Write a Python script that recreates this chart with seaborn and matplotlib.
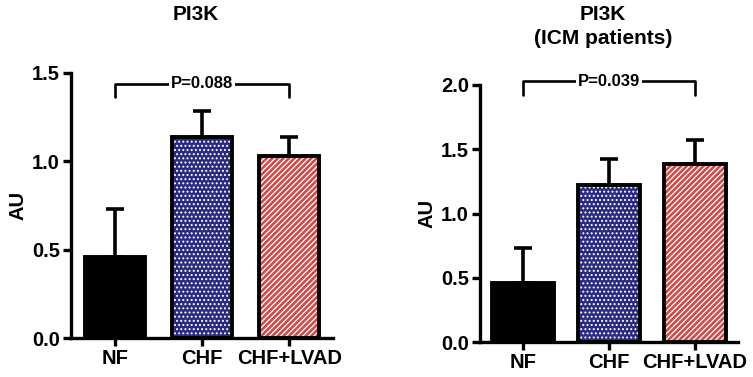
import matplotlib
matplotlib.use("Agg")
import matplotlib.pyplot as plt
import seaborn as sns
import pandas as pd

categories = ["NF", "CHF", "CHF+LVAD"]
left_means = [0.46, 1.135, 1.03]
left_err = [0.27, 0.15, 0.105]
right_means = [0.46, 1.22, 1.385]
right_err = [0.27, 0.205, 0.185]
left_p = "P=0.088"
right_p = "P=0.039"
left_yticks = [0.0, 0.5, 1.0, 1.5]
right_yticks = [0.0, 0.5, 1.0, 1.5, 2.0]

sns.set_style("ticks")
plt.rcParams["font.family"] = ["Liberation Sans", "DejaVu Sans"]
plt.rcParams["font.weight"] = "bold"
plt.rcParams["hatch.linewidth"] = 0.9
plt.rcParams["text.color"] = "black"
plt.rcParams["axes.edgecolor"] = "black"
plt.rcParams["axes.labelcolor"] = "black"
plt.rcParams["xtick.color"] = "black"
plt.rcParams["ytick.color"] = "black"

colors = ["#000000", "#1c1c8c", "#e03838"]
hatches = ["", "....", "//////"]

fig = plt.figure(figsize=(7.53, 3.77), dpi=100)
ax1 = fig.add_axes([71/753, 1-338/377, (333-71)/753, (338-73)/377])
ax2 = fig.add_axes([480/753, 1-342/377, (738-480)/753, (342-85)/377])


def panel(ax, means, errs, yticks, ptxt, br_top, br_bot, width):
    df = pd.DataFrame({"cat": categories, "val": means})
    ax.errorbar(range(3), means, yerr=[[0]*3, errs], fmt="none", ecolor="black",
                elinewidth=2.6, capsize=6.5, capthick=2.6, zorder=1)
    sns.barplot(data=df, x="cat", y="val", hue="cat", palette=colors, legend=False,
                width=width, ax=ax, linewidth=0, edgecolor="white", zorder=2)
    for p, h in zip(ax.patches, hatches):
        p.set_hatch(h)
        p.set_edgecolor("white")
        p.set_linewidth(0)
    sns.barplot(data=df, x="cat", y="val", fill=False, width=width, ax=ax,
                edgecolor="black", linewidth=2.8, zorder=3)
    ax.set_xlim(-0.5, 2.5)
    ax.set_ylim(0, yticks[-1])
    ax.set_yticks(yticks)
    ax.set_yticklabels([f"{t:.1f}" for t in yticks])
    ax.set_xlabel("")
    ax.set_ylabel("AU", fontsize=14.5, fontweight="bold", labelpad=3)
    for s in ["top", "right"]:
        ax.spines[s].set_visible(False)
    for s in ["left", "bottom"]:
        ax.spines[s].set_linewidth(2.4)
    ax.tick_params(axis="both", width=2.4, length=6, labelsize=14.5, direction="out",
                   pad=2)
    for lab in ax.get_xticklabels() + ax.get_yticklabels():
        lab.set_fontweight("bold")
    ax.plot([0, 0, 2, 2], [br_bot, br_top, br_top, br_bot], color="black", lw=1.9,
            clip_on=False, zorder=4)
    ax.text(1, br_top, ptxt, ha="center", va="center", fontsize=12, fontweight="bold",
            bbox=dict(facecolor="white", edgecolor="none", pad=1.5), zorder=5, clip_on=False)


panel(ax1, left_means, left_err, left_yticks, left_p, 1.44, 1.365, 0.69)
panel(ax2, right_means, right_err, right_yticks, right_p, 2.03, 1.92, 0.71)

fig.text(196/753, 1-14/377, "PI3K", ha="center", va="center", fontsize=15, fontweight="bold")
fig.text(603/753, 1-14/377, "PI3K", ha="center", va="center", fontsize=15, fontweight="bold")
fig.text(603/753, 1-38/377, "(ICM patients)", ha="center", va="center", fontsize=15, fontweight="bold")

fig.savefig("out.png", dpi=100)
